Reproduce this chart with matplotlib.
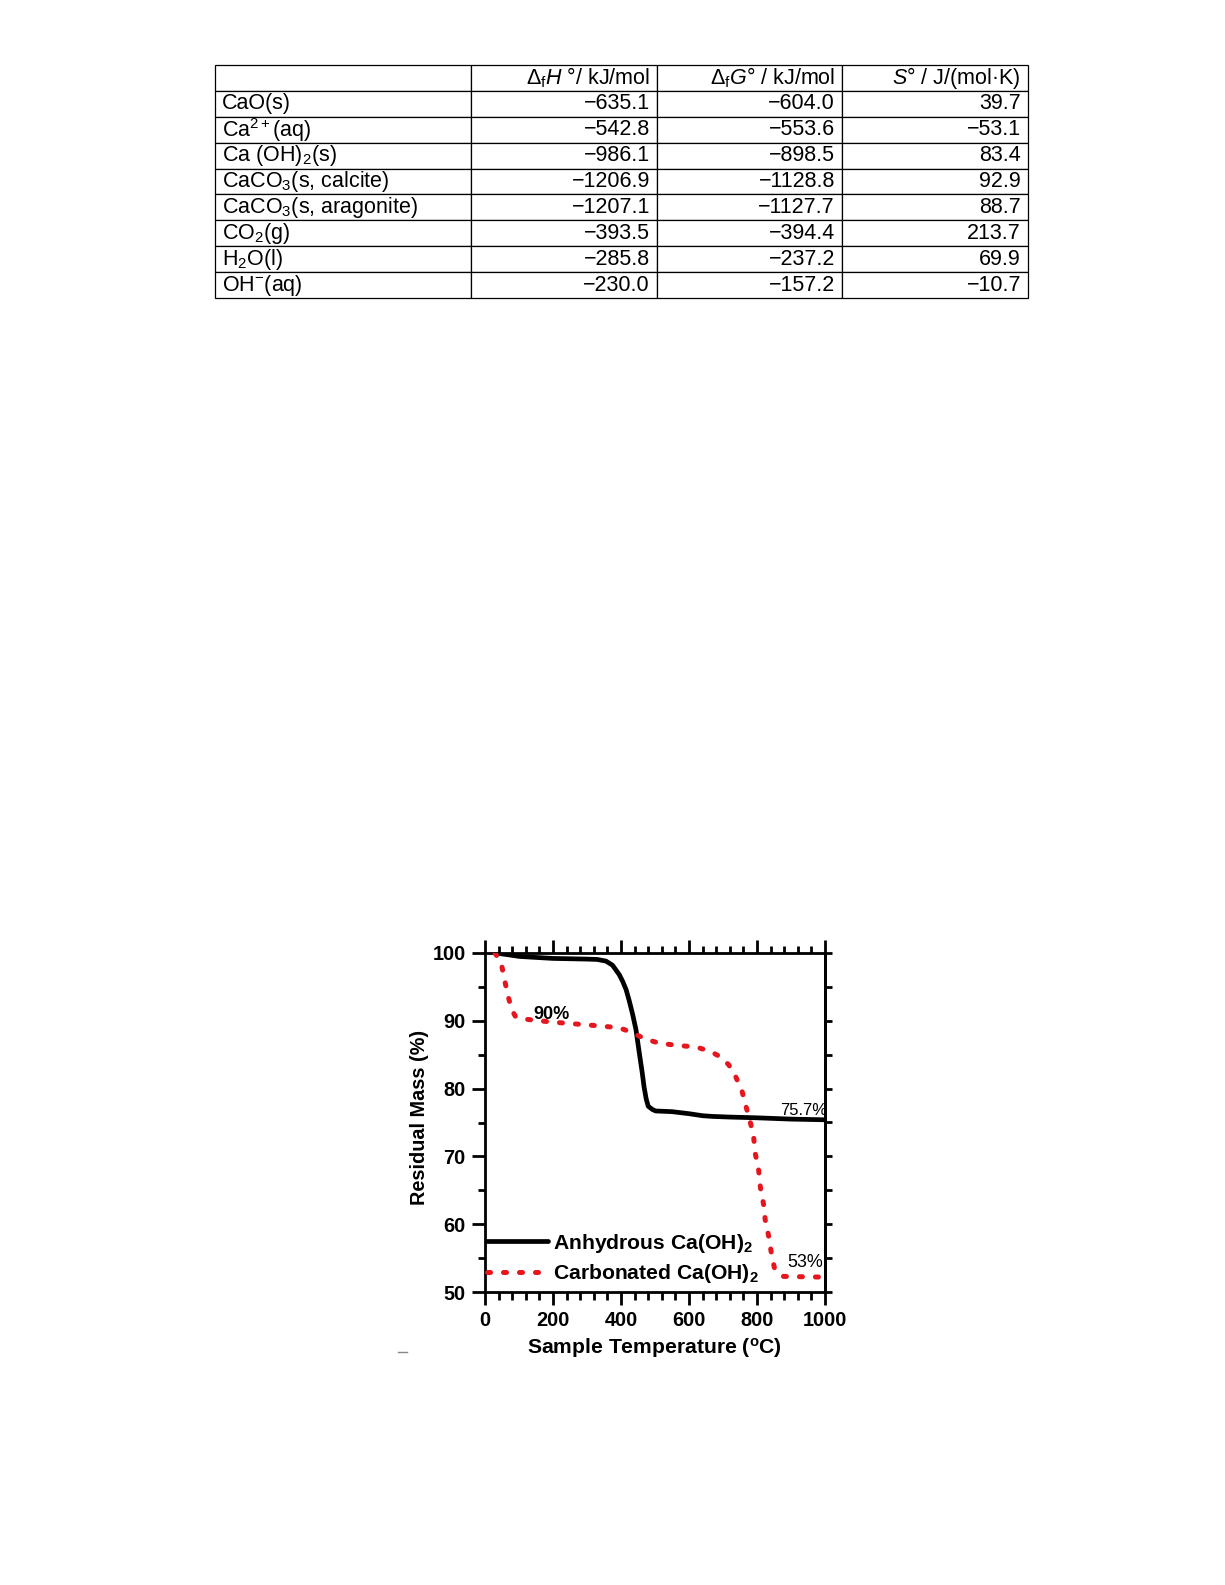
import matplotlib
matplotlib.use("Agg")
import matplotlib.pyplot as plt
from matplotlib.table import Table
from matplotlib.lines import Line2D
from matplotlib.ticker import MultipleLocator, AutoMinorLocator

plt.rcParams['font.family'] = ['Liberation Sans', 'DejaVu Sans']
plt.rcParams['mathtext.fontset'] = 'custom'
plt.rcParams['mathtext.rm'] = 'Liberation Sans'
plt.rcParams['mathtext.it'] = 'Liberation Sans:italic'
plt.rcParams['mathtext.bf'] = 'Liberation Sans:bold'

# ---- table data ----
col_headers = ["", r"Δ$_\mathregular{f}$$\mathit{H}$ °/ kJ/mol",
               r"Δ$_\mathregular{f}$$\mathit{G}$° / kJ/mol",
               r"$\mathit{S}$° / J/(mol·K)"]
species = ["CaO(s)", r"Ca$^\mathregular{2+}$(aq)", r"Ca (OH)$_\mathregular{2}$(s)",
           r"CaCO$_\mathregular{3}$(s, calcite)", r"CaCO$_\mathregular{3}$(s, aragonite)",
           r"CO$_\mathregular{2}$(g)", r"H$_\mathregular{2}$O(l)", r"OH$^\mathregular{-}$(aq)"]
dHf = [-635.1, -542.8, -986.1, -1206.9, -1207.1, -393.5, -285.8, -230.0]
dGf = [-604.0, -553.6, -898.5, -1128.8, -1127.7, -394.4, -237.2, -157.2]
S0 = [39.7, -53.1, 83.4, 92.9, 88.7, 213.7, 69.9, -10.7]

# ---- TGA curves ----
temp_anh = [30, 60, 100, 132, 200, 250, 300, 330, 356, 375, 385, 395, 405, 415, 424,
            434, 444, 454, 462, 468, 474, 480, 493, 502, 550, 600, 640, 668, 720, 795,
            900, 1000]
mass_anh = [100, 99.8, 99.5, 99.4, 99.2, 99.15, 99.1, 99.05, 98.8, 98.2, 97.5, 96.8,
            95.8, 94.6, 93.0, 91.0, 88.7, 85.2, 82.5, 80.2, 78.5, 77.4, 76.9, 76.7,
            76.6, 76.3, 76.0, 75.9, 75.8, 75.7, 75.5, 75.4]
temp_carb = [29, 40, 50, 59, 68, 79, 90, 109, 161, 200, 249, 300, 346, 390, 410, 434,
             473, 512, 561, 605, 630, 649, 670, 688, 705, 717, 737, 756, 768, 781, 790,
             795, 805, 810, 819, 824, 834, 842, 851, 865, 878, 990, 1000]
mass_carb = [100, 99.2, 97.9, 95.7, 93.6, 91.6, 90.6, 90.3, 90, 89.8, 89.6, 89.4, 89.2,
             89.0, 88.7, 88.2, 87.3, 86.7, 86.4, 86.2, 86.0, 85.7, 85.3, 84.8, 84.1,
             83.5, 81.8, 79.6, 77.3, 74.9, 72.9, 70.4, 67.9, 65.4, 63.0, 60.7, 58.3,
             55.8, 53.6, 52.6, 52.3, 52.2, 52.2]

W, H = 1225, 1585
fig = plt.figure(figsize=(W / 100, H / 100), dpi=100)

def fmt(v):
    return f"{v:.1f}".replace("-", "\u2212")

# table
tax = fig.add_axes([215 / W, 1 - 298 / H, 813 / W, 233 / H])
tax.axis('off')
col_px = [256, 186, 185, 186]
tot = sum(col_px)
rows = [col_headers] + [[species[i], fmt(dHf[i]), fmt(dGf[i]), fmt(S0[i])]
                        for i in range(len(species))]
tbl = Table(tax, bbox=[0, 0, 1, 1])
for i, row in enumerate(rows):
    for j, txt in enumerate(row):
        cell = tbl.add_cell(i, j, width=col_px[j] / tot, height=1 / len(rows),
                            text=txt, loc='left' if j == 0 else 'right')
        cell.PAD = 7 / col_px[j]
        cell.set_linewidth(0.9)
        cell.set_edgecolor('black')
tbl.auto_set_font_size(False)
tbl.set_fontsize(15.5)
tax.add_table(tbl)

# chart
RED = '#e5161d'
ax = fig.add_axes([485 / W, 1 - 1292 / H, 340 / W, 339 / H])
l1, = ax.plot(temp_anh, mass_anh, color='black', lw=3.4, solid_capstyle='round', zorder=3)
l2, = ax.plot(temp_carb, mass_carb, color=RED, lw=3.6,
              linestyle=(0, (0.6, 2.6)), dash_capstyle='round', zorder=3)

ax.set_xlim(0, 1000)
ax.set_ylim(50, 100)
ax.xaxis.set_major_locator(MultipleLocator(200))
ax.xaxis.set_minor_locator(AutoMinorLocator(5))
ax.yaxis.set_major_locator(MultipleLocator(10))
ax.yaxis.set_minor_locator(AutoMinorLocator(2))
for s in ax.spines.values():
    s.set_linewidth(2)
ax.tick_params(which='major', direction='out', length=9.4, width=2, pad=4.5,
               labelsize=14.3, top=True)
ax.tick_params(which='minor', direction='out', length=5.4, width=2, top=True)
for lab in ax.get_xticklabels() + ax.get_yticklabels():
    lab.set_fontweight('bold')

sec = ax.secondary_yaxis('right')
sec.yaxis.set_major_locator(MultipleLocator(10))
sec.yaxis.set_minor_locator(AutoMinorLocator(2))
sec.tick_params(which='both', direction='out', length=5, width=2, labelright=False)
sec.spines['right'].set_linewidth(2)

ax.set_xlabel(r"Sample Temperature ($^\mathregular{o}$C)", fontsize=15.2,
              fontweight='bold')
ax.set_ylabel("Residual Mass (%)", fontsize=14.3, fontweight='bold')
ax.xaxis.set_label_coords(0.497, -0.13)
ax.yaxis.set_label_coords(-0.165, 0.515)

ax.text(141, 91.0, "90%", fontsize=13.1, fontweight='bold', va='center', ha='left')
ax.text(1006, 76.8, "75.7%", fontsize=12, va='center', ha='right')
ax.text(994, 54.3, "53%", fontsize=12.9, va='center', ha='right')

ax.legend([l1, l2], [r"Anhydrous Ca(OH)$_\mathregular{2}$",
                     r"Carbonated Ca(OH)$_\mathregular{2}$"],
          loc='lower left', bbox_to_anchor=(0.005, 0.02), frameon=False,
          prop={'weight': 'bold', 'size': 15.2}, handlelength=2.9,
          handletextpad=0.25, borderpad=0, borderaxespad=0, labelspacing=0.35)

fig.add_artist(Line2D([398 / W, 407 / W], [1 - 1352 / H] * 2, color='#888888', lw=1))

fig.savefig("out.png", dpi=100)
